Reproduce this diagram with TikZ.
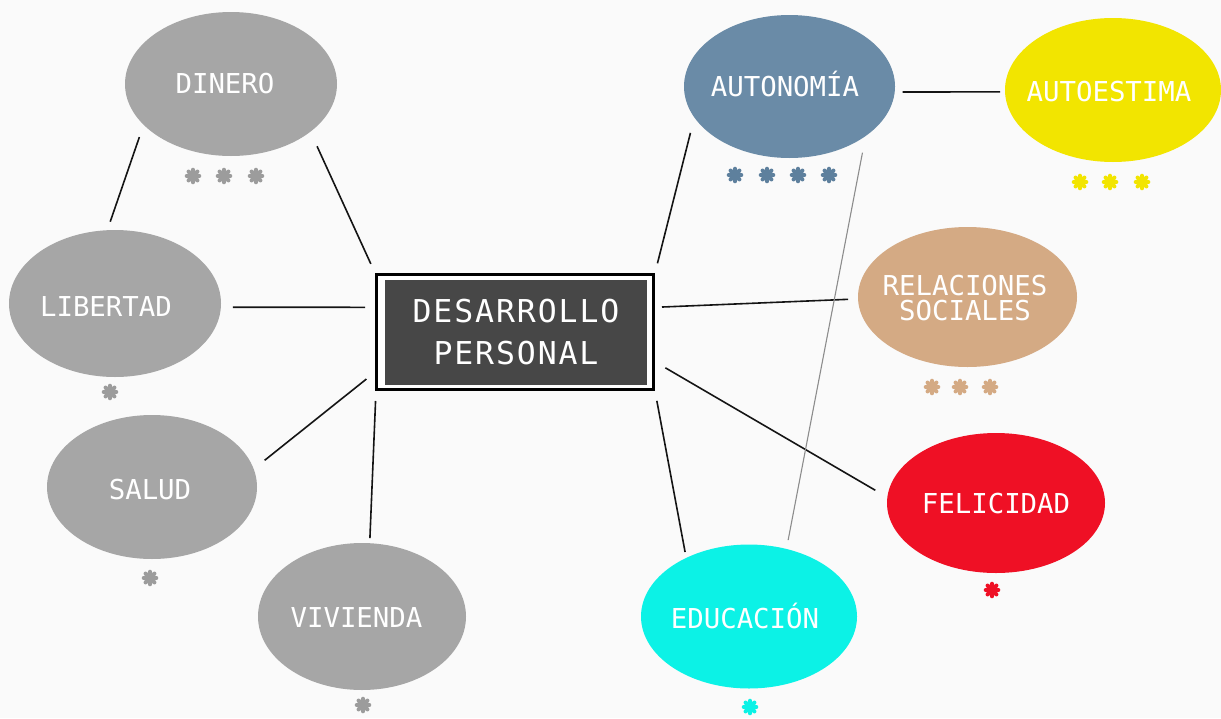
\documentclass[tikz,border=0pt]{standalone}
\usepackage{fontspec}
\usetikzlibrary{shapes.geometric}
\newfontfamily\lblfont{DejaVu Sans Mono}
\newfontfamily\boxfont[LetterSpace=6]{DejaVu Sans Mono}
\definecolor{bg}{HTML}{FAFAFA}
\definecolor{cgray}{HTML}{A6A6A6}
\definecolor{agray}{HTML}{9C9C9C}
\definecolor{cblue}{HTML}{6A8BA7}
\definecolor{ablue}{HTML}{5E809D}
\definecolor{cyel}{HTML}{F2E500}
\definecolor{ctan}{HTML}{D4AA84}
\definecolor{cred}{HTML}{EF1025}
\definecolor{ccyan}{HTML}{0CF2E6}
\definecolor{boxin}{HTML}{474747}
\tikzset{
  pics/flower/.style={code={
    \foreach \a in {0,45,90,135}{\draw[line width=4pt, line cap=round, draw=#1] (\a:6.3) -- (\a+180:6.3);}
  }}
}
\begin{document}
\begin{tikzpicture}[x=1pt,y=-1pt,
  bubble/.style={ellipse, draw=none, inner sep=0pt, outer sep=0pt},
  lblbase/.style={text=white, font=\lblfont\fontsize{27.4}{30}\selectfont, inner sep=0pt},
  lbl/.style={lblbase, text height=20pt, text depth=0pt},
  conn/.style={draw=black!92, line width=1.6pt},
  grayconn/.style={draw=black!45, line width=1.1pt}]
\fill[bg] (0,0) rectangle (1221,718);
\useasboundingbox (0,0) rectangle (1221,718);

% central box
\node[draw=black, line width=3pt, fill=white, minimum width=277pt, minimum height=115pt, inner sep=0pt] (box) at (515,332) {};
\node[fill=boxin, minimum width=262pt, minimum height=105pt, inner sep=0pt, text=white, align=center,
      font=\boxfont\fontsize{31.5}{42}\selectfont] (title) at (516,332.5) {DESARROLLO\\PERSONAL};

% bubbles
\node[bubble, fill=cgray, minimum width=212pt, minimum height=144pt,
      label={[lbl, xshift=-6pt, yshift=1pt]center:DINERO}] (dinero) at (231,84) {};
\node[bubble, fill=cgray, minimum width=212pt, minimum height=147pt,
      label={[lbl, xshift=-9pt, yshift=-2.5pt]center:LIBERTAD}] (libertad) at (115,303.5) {};
\node[bubble, fill=cgray, minimum width=210pt, minimum height=144pt,
      label={[lbl, xshift=-2pt, yshift=-2pt]center:SALUD}] (salud) at (152,487) {};
\node[bubble, fill=cgray, minimum width=208pt, minimum height=147pt,
      label={[lbl, xshift=-5.5pt, yshift=-1pt]center:VIVIENDA}] (vivienda) at (362,616.5) {};
\node[bubble, fill=cblue, minimum width=211pt, minimum height=143pt,
      label={[lbl, xshift=-4.5pt, yshift=0pt]center:AUTONOMÍA}] (autonomia) at (789.5,86.5) {};
\node[bubble, fill=cyel, minimum width=216pt, minimum height=144pt,
      label={[lbl, xshift=-4pt, yshift=-1pt]center:AUTOESTIMA}] (autoestima) at (1113,90) {};
\node[bubble, fill=ctan, minimum width=219pt, minimum height=140pt,
      label={[lblbase, align=center, xshift=-2.5pt, yshift=-1pt, font=\lblfont\fontsize{27.4}{25}\selectfont]center:RELACIONES\\SOCIALES}] (relaciones) at (967.5,297) {};
\node[bubble, fill=cred, minimum width=218pt, minimum height=140pt,
      label={[lbl]center:FELICIDAD}] (felicidad) at (996,503) {};
\node[bubble, fill=ccyan, minimum width=216pt, minimum height=144pt,
      label={[lbl, xshift=-4pt, yshift=-1.5pt]center:EDUCACIÓN}] (educacion) at (749,616.5) {};

% connectors
\draw[conn, shorten <=13pt, shorten >=9pt] (dinero.205) -- (libertad.96);
\draw[conn, shorten <=16pt, shorten >=10pt] (dinero.-31) -- (box.north west);
\draw[conn, shorten <=12pt, shorten >=10pt] (libertad.-2) -- (box.170);
\draw[conn, shorten <=14pt, shorten >=11pt] (salud.10) -- (box.196);
\draw[conn, shorten <=5pt, shorten >=10pt] (vivienda.84) -- (box.203);
\draw[conn, shorten <=10pt, shorten >=16pt] (box.north east) -- (autonomia.198);
\draw[conn, shorten <=8pt, shorten >=5pt] (autonomia.-3.5) -- (autoestima.181.6);
\draw[conn, shorten <=7pt, shorten >=10pt] (box.10) -- (relaciones.181);
\draw[conn, shorten <=12pt, shorten >=14pt] (box.-12.8) -- (felicidad.177);
\draw[conn, shorten <=10pt, shorten >=6pt] (box.south east) -- (educacion.137);
\draw[grayconn, shorten <=17pt, shorten >=9pt] (autonomia.-33.4) -- (educacion.61);

% rating marks
\foreach \x in {193,224,256} \pic at (\x,176) {flower=agray};
\pic at (110,392) {flower=agray};
\pic at (150,578) {flower=agray};
\pic at (363,705) {flower=agray};
\foreach \x in {735,767,798,829} \pic at (\x,175) {flower=ablue};
\foreach \x in {1080,1110,1142} \pic at (\x,182) {flower=cyel};
\foreach \x in {932,960,990} \pic at (\x,387) {flower=ctan};
\pic at (992,590) {flower=cred};
\pic at (750,707) {flower=ccyan};
\end{tikzpicture}
\end{document}
